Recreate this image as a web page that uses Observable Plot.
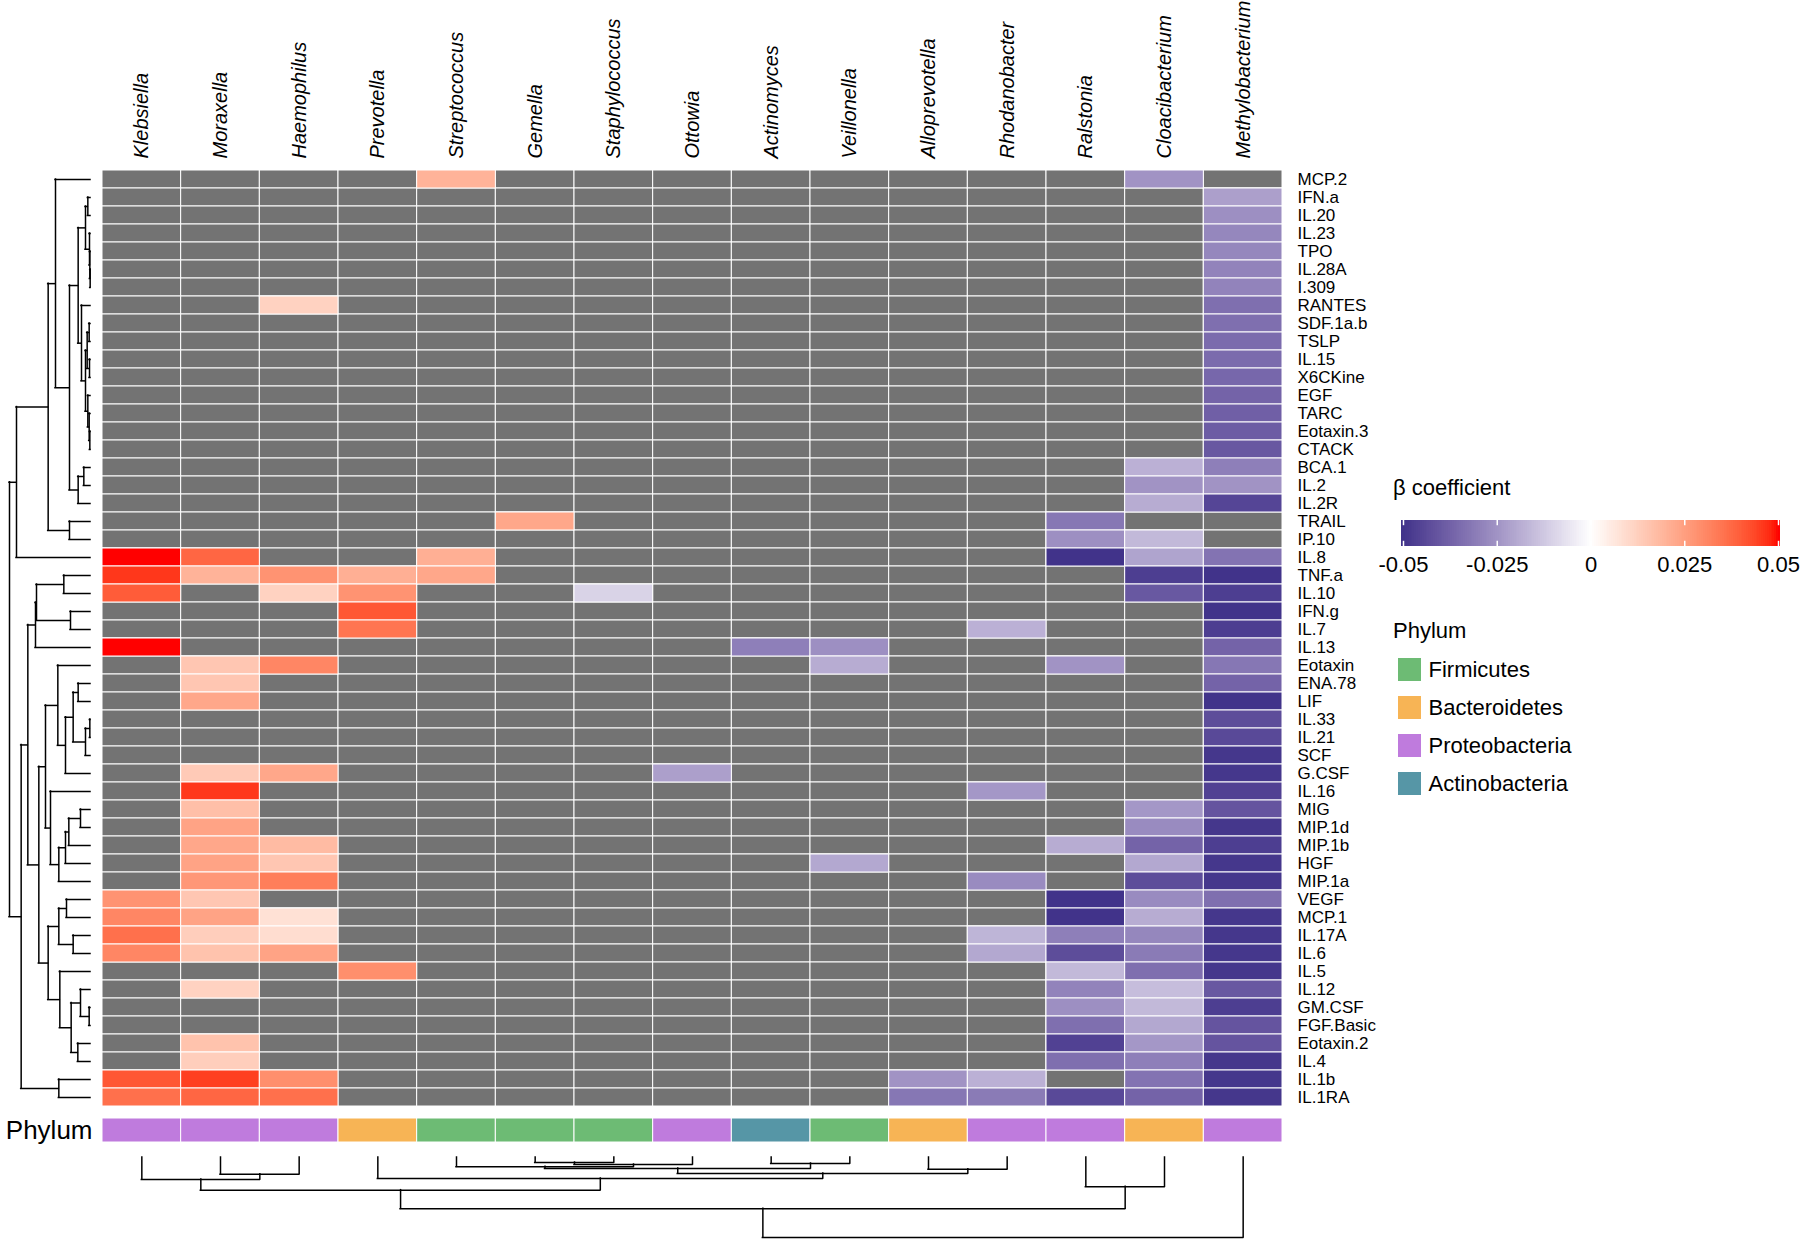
<!DOCTYPE html>
<html>
<head>
<meta charset="utf-8">
<script src="https://cdn.jsdelivr.net/npm/d3@7"></script>
<script src="https://cdn.jsdelivr.net/npm/@observablehq/plot@0.6"></script>
<style>
  body { margin: 0; background: #fff; }
  #chart { position: relative; width: 1800px; height: 1241px; font-family: "Liberation Sans", Arial, Helvetica, sans-serif; }
  #chart svg { position: absolute; background: transparent !important; overflow: visible; max-width: none !important; }
  .lbl { position: absolute; font-size: 22px; line-height: 26px; color: #000; white-space: nowrap; }
</style>
</head>
<body>
<div id="chart"></div>
<script>
// ---------------- DATA ----------------
const genera = ["Klebsiella","Moraxella","Haemophilus","Prevotella","Streptococcus","Gemella","Staphylococcus","Ottowia","Actinomyces","Veillonella","Alloprevotella","Rhodanobacter","Ralstonia","Cloacibacterium","Methylobacterium"];
const generaPhylum = ["Proteobacteria","Proteobacteria","Proteobacteria","Bacteroidetes","Firmicutes","Firmicutes","Firmicutes","Proteobacteria","Actinobacteria","Firmicutes","Bacteroidetes","Proteobacteria","Proteobacteria","Bacteroidetes","Proteobacteria"];
const phyla = ["Firmicutes","Bacteroidetes","Proteobacteria","Actinobacteria"];
const phylaColors = ["#6dbb74","#f7b455","#bf7bdd","#5696a6"];

const cytokines = ["MCP.2","IFN.a","IL.20","IL.23","TPO","IL.28A","I.309","RANTES","SDF.1a.b","TSLP",
  "IL.15","X6CKine","EGF","TARC","Eotaxin.3","CTACK","BCA.1","IL.2","IL.2R","TRAIL",
  "IP.10","IL.8","TNF.a","IL.10","IFN.g","IL.7","IL.13","Eotaxin","ENA.78","LIF",
  "IL.33","IL.21","SCF","G.CSF","IL.16","MIG","MIP.1d","MIP.1b","HGF","MIP.1a",
  "VEGF","MCP.1","IL.17A","IL.6","IL.5","IL.12","GM.CSF","FGF.Basic","Eotaxin.2","IL.4",
  "IL.1b","IL.1RA"];

const _ = null; // not significant (grey)
// beta coefficients, one array per genus, in cytokine order
const klebsiella = [_,_,_,_,_,_,_,_,_,_, _,_,_,_,_,_,_,_,_,_, _,.05,.046,.04,_,_,.05,_,_,_, _,_,_,_,_,_,_,_,_,_, .028,.031,.036,.031,_,_,_,_,_,_, .041,.036];
const moraxella = [_,_,_,_,_,_,_,_,_,_, _,_,_,_,_,_,_,_,_,_, _,.038,.02,_,_,_,_,.015,.015,.023, _,_,_,.014,.046,.017,.024,.023,.024,.027, .015,.024,.013,.016,_,.012,_,_,.016,.013, .045,.038];
const haemophilus = [_,_,_,_,_,_,_,.012,_,_, _,_,_,_,_,_,_,_,_,_, _,_,.028,.012,_,_,_,.031,_,_, _,_,_,.023,_,_,_,.018,.015,.033, _,.008,.009,.024,_,_,_,_,_,_, .029,.036];
const prevotella = [_,_,_,_,_,_,_,_,_,_, _,_,_,_,_,_,_,_,_,_, _,_,.021,.028,.041,.035,_,_,_,_, _,_,_,_,_,_,_,_,_,_, _,_,_,_,.029,_,_,_,_,_, _,_];
const streptococcus = [.02,_,_,_,_,_,_,_,_,_, _,_,_,_,_,_,_,_,_,_, _,.021,.023,_,_,_,_,_,_,_, _,_,_,_,_,_,_,_,_,_, _,_,_,_,_,_,_,_,_,_, _,_];
const gemella = [_,_,_,_,_,_,_,_,_,_, _,_,_,_,_,_,_,_,_,.023, _,_,_,_,_,_,_,_,_,_, _,_,_,_,_,_,_,_,_,_, _,_,_,_,_,_,_,_,_,_, _,_];
const staphylococcus = [_,_,_,_,_,_,_,_,_,_, _,_,_,_,_,_,_,_,_,_, _,_,_,-.01,_,_,_,_,_,_, _,_,_,_,_,_,_,_,_,_, _,_,_,_,_,_,_,_,_,_, _,_];
const ottowia = [_,_,_,_,_,_,_,_,_,_, _,_,_,_,_,_,_,_,_,_, _,_,_,_,_,_,_,_,_,_, _,_,_,-.022,_,_,_,_,_,_, _,_,_,_,_,_,_,_,_,_, _,_];
const actinomyces = [_,_,_,_,_,_,_,_,_,_, _,_,_,_,_,_,_,_,_,_, _,_,_,_,_,_,-.03,_,_,_, _,_,_,_,_,_,_,_,_,_, _,_,_,_,_,_,_,_,_,_, _,_];
const veillonella = [_,_,_,_,_,_,_,_,_,_, _,_,_,_,_,_,_,_,_,_, _,_,_,_,_,_,-.026,-.019,_,_, _,_,_,_,_,_,_,_,-.02,_, _,_,_,_,_,_,_,_,_,_, _,_];
const alloprevotella = [_,_,_,_,_,_,_,_,_,_, _,_,_,_,_,_,_,_,_,_, _,_,_,_,_,_,_,_,_,_, _,_,_,_,_,_,_,_,_,_, _,_,_,_,_,_,_,_,_,_, -.025,-.032];
const rhodanobacter = [_,_,_,_,_,_,_,_,_,_, _,_,_,_,_,_,_,_,_,_, _,_,_,_,_,-.018,_,_,_,_, _,_,_,_,-.024,_,_,_,_,-.027, _,_,-.017,-.02,_,_,_,_,_,_, -.018,-.031];
const ralstonia = [_,_,_,_,_,_,_,_,_,_, _,_,_,_,_,_,_,_,_,-.032, -.026,-.05,_,_,_,_,_,-.025,_,_, _,_,_,_,_,_,_,-.019,_,_, -.05,-.05,-.03,-.043,-.016,-.029,-.026,-.034,-.046,-.034, _,-.044];
const cloacibacterium = [-.025,_,_,_,_,_,_,_,_,_, _,_,_,_,_,_,-.018,-.025,-.019,_, -.016,-.021,-.047,-.04,_,_,_,_,_,_, _,_,_,_,_,-.024,-.027,-.037,-.02,-.043, -.027,-.019,-.028,-.031,-.034,-.015,-.016,-.02,-.024,-.03, -.033,-.037];
const methylobacterium = [_,-.022,-.026,-.028,-.028,-.029,-.029,-.034,-.034,-.035, -.035,-.036,-.037,-.038,-.039,-.04,-.03,-.025,-.045,_, _,-.033,-.05,-.047,-.05,-.047,-.037,-.032,-.037,-.05, -.043,-.044,-.049,-.049,-.046,-.041,-.049,-.047,-.049,-.049, -.034,-.049,-.049,-.049,-.049,-.04,-.047,-.041,-.041,-.049, -.049,-.049];

// Row (cytokine) clustering: hclust-style merges (negative = leaf number, positive = earlier merge) and heights
const rowMerge = [[-2,-3],[-6,-7],[-5,2],[-4,3],[1,4],[-9,-10],[-11,-12],[6,7],[-15,-16],[-14,9],
  [-13,10],[8,11],[-8,12],[5,13],[-17,-18],[15,-19],[14,16],[-1,17],[-20,-21],[18,19],
  [-22,20],[-23,-24],[-25,-26],[22,23],[24,-27],[-29,-30],[-31,-32],[27,-33],[26,28],[29,-34],
  [-28,30],[-36,-37],[32,-38],[33,-39],[34,-40],[-35,35],[31,36],[-41,-42],[-43,-44],[38,39],
  [-47,-48],[-46,41],[-49,-50],[42,43],[-45,44],[40,45],[37,46],[25,47],[-51,-52],[48,49],[21,50]];
const rowHeight = [8,1,2,3,15,4,3,10,2,4, 8,15,27,37,20,37,63,105,63,127, 222,80,60,162,165,37,2,15,52,75, 98,30,65,75,95,120,135,72,52,95, 4,30,38,58,92,127,155,188,95,208,243];

// Column (genus) clustering
const colMerge = [[-6,-7],[1,-8],[-5,2],[-9,-10],[3,4],[-11,-12],[5,6],[-4,7],[-2,-3],[-1,9],[10,8],[-13,-14],[11,12],[13,-15]];
const colHeight = [15,21,28,18,33,35,48,63,50,66,98,88,154,240];

// ---------------- BUILD ----------------
const betaByGenus = [klebsiella,moraxella,haemophilus,prevotella,streptococcus,gemella,staphylococcus,ottowia,actinomyces,veillonella,alloprevotella,rhodanobacter,ralstonia,cloacibacterium,methylobacterium];
const cells = genera.flatMap((g, j) => betaByGenus[j].map((v, i) => ({genus: g, cytokine: cytokines[i], beta: v})));
const genusTable = genera.map((g, j) => ({genus: g, phylum: generaPhylum[j]}));

const betaColor = {type: "linear", domain: [-0.05, 0, 0.05], range: ["#41338a", "#ffffff", "#ff0000"], interpolate: "lab", clamp: true};
const font = "Liberation Sans, Arial, Helvetica, sans-serif";
const svgStyle = {background: "transparent", fontFamily: font, overflow: "visible"};

function dendro(merge, heights) {
  const pos = [], hgt = [], across = [], stems = [];
  const get = (c) => c < 0 ? {p: -c - 1, h: 0} : {p: pos[c - 1], h: hgt[c - 1]};
  merge.forEach(([a, b], k) => {
    const A = get(a), B = get(b), h = heights[k];
    across.push({p1: A.p, p2: B.p, h});
    stems.push({p: A.p, h1: A.h, h2: h}, {p: B.p, h1: B.h, h2: h});
    pos[k] = (A.p + B.p) / 2; hgt[k] = h;
  });
  return {across, stems};
}

const chart = document.getElementById("chart");
function place(node, left, top) { node.style.left = left + "px"; node.style.top = top + "px"; chart.appendChild(node); return node; }

// Heatmap
const gridLeft = 102, gridRight = 1282, gridTop = 170, gridBottom = 1106;
const heat = Plot.plot({
  width: 1800 - gridLeft, height: gridBottom,
  marginLeft: 0, marginRight: 1800 - gridRight, marginTop: gridTop, marginBottom: 0,
  style: svgStyle,
  x: {domain: genera, padding: 0, round: false, axis: null},
  y: {domain: cytokines, padding: 0, round: false, axis: null},
  color: betaColor,
  marks: [
    Plot.cell(cells, {x: "genus", y: "cytokine", fill: "#737373", stroke: "white", strokeWidth: 1}),
    Plot.cell(cells.filter(d => d.beta != null), {x: "genus", y: "cytokine", fill: "beta", stroke: "white", strokeWidth: 1}),
    Plot.axisX({anchor: "top", tickSize: 0, tickPadding: 12, tickRotate: -90, fontSize: 20, fontStyle: "italic", label: null}),
    Plot.axisY({anchor: "right", tickSize: 0, tickPadding: 15, fontSize: 17, label: null})
  ]
});
place(heat, gridLeft, 0);

// Row dendrogram
const rd = dendro(rowMerge, rowHeight);
const rowDendro = Plot.plot({
  width: gridLeft, height: gridBottom, style: svgStyle,
  x: {domain: [0, 243], range: [90, 9], axis: null},
  y: {domain: [-0.5, cytokines.length - 0.5], range: [gridTop, gridBottom], axis: null},
  marks: [
    Plot.ruleX(rd.across, {x: "h", y1: "p1", y2: "p2", stroke: "black", strokeWidth: 1.5, strokeLinecap: "square"}),
    Plot.ruleY(rd.stems, {y: "p", x1: "h1", x2: "h2", stroke: "black", strokeWidth: 1.5, strokeLinecap: "square"})
  ]
});
place(rowDendro, 0, 0);

// Phylum annotation bar
const phylumBar = Plot.plot({
  width: 1800, height: 34, marginLeft: gridLeft, marginRight: 1800 - gridRight, marginTop: 5, marginBottom: 5,
  style: svgStyle,
  x: {domain: genera, padding: 0, round: false, axis: null},
  y: {domain: ["Phylum"], padding: 0, round: false, axis: null},
  color: {domain: phyla, range: phylaColors},
  marks: [
    Plot.cell(genusTable, {x: "genus", y: () => "Phylum", fill: "phylum", stroke: "white", strokeWidth: 1}),
    Plot.axisY({anchor: "left", tickSize: 0, tickPadding: 10, fontSize: 26, label: null})
  ]
});
place(phylumBar, 0, 1113);

// Column dendrogram
const cd = dendro(colMerge, colHeight);
const colDendro = Plot.plot({
  width: 1800, height: 91, style: svgStyle,
  x: {domain: [-0.5, genera.length - 0.5], range: [gridLeft, gridRight], axis: null},
  y: {domain: [0, 240], range: [7, 87], axis: null},
  marks: [
    Plot.ruleY(cd.across, {y: "h", x1: "p1", x2: "p2", stroke: "black", strokeWidth: 1.5, strokeLinecap: "square"}),
    Plot.ruleX(cd.stems, {x: "p", y1: "h1", y2: "h2", stroke: "black", strokeWidth: 1.5, strokeLinecap: "square"})
  ]
});
place(colDendro, 0, 1150);

// Colour bar legend
const legendTicks = [-0.05, -0.025, 0, 0.025, 0.05];
const rampStep = 0.0005;
const rampSteps = d3.range(-0.0505, 0.0505, rampStep);
const colorBar = Plot.plot({
  width: 430, height: 110, style: svgStyle,
  x: {domain: [-0.05, 0.05], range: [33, 408], axis: null},
  y: {domain: [0, 1], range: [76, 50], axis: null},
  color: betaColor,
  marks: [
    Plot.rect(rampSteps, {x1: d => d, x2: d => Math.min(d + rampStep * 2, 0.0505), y1: 0, y2: 1, fill: d => d + rampStep / 2, shapeRendering: "crispEdges"}),
    Plot.ruleX(legendTicks, {x: d => d, y1: 0, y2: 0.2, stroke: "white", strokeWidth: 1.5}),
    Plot.ruleX(legendTicks, {x: d => d, y1: 0.8, y2: 1, stroke: "white", strokeWidth: 1.5}),
    Plot.text(legendTicks, {x: d => d, y: -0.7, text: d => String(d), fontSize: 22, fill: "black"})
  ]
});
place(colorBar, 1370, 470);

// Phylum legend
const phylumLegend = Plot.plot({
  width: 300, height: 170, style: svgStyle,
  x: {domain: [0, 300], range: [0, 300], axis: null},
  y: {type: "point", domain: phyla, range: [28, 143], padding: 0, axis: null},
  color: {domain: phyla, range: phylaColors},
  marks: [
    Plot.dot(phyla, {x: 19, y: d => d, symbol: "square", r: 13, fill: d => d}),
    Plot.text(phyla, {x: 38, y: d => d, text: d => d, textAnchor: "start", fontSize: 22, fill: "black"})
  ]
});
place(phylumLegend, 1390, 640);

// Legend titles
function label(text, left, top) { const d = document.createElement("div"); d.className = "lbl"; d.textContent = text; d.style.left = left + "px"; d.style.top = top + "px"; chart.appendChild(d); }
label("β coefficient", 1393, 475);
label("Phylum", 1393, 618);
</script>
</body>
</html>
